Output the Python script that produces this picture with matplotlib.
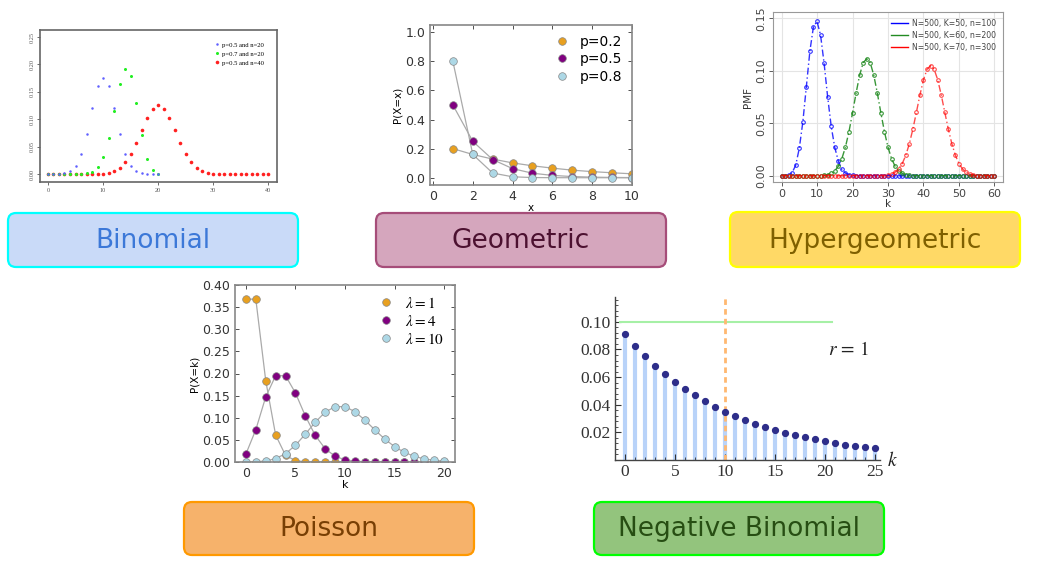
import matplotlib.pyplot as plt
from matplotlib.patches import FancyBboxPatch
from matplotlib.ticker import MultipleLocator
from matplotlib.lines import Line2D

plt.rcParams['mathtext.fontset'] = 'stix'

W, H = 1046, 581

# ---------------- data ----------------
binom_k20 = list(range(0, 21))
binom_k40 = list(range(0, 41))
binom_p05_n20 = [0.0, 0.0, 0.0002, 0.0011, 0.0046, 0.0148, 0.037, 0.0739, 0.1201, 0.1602,
                 0.1762, 0.1602, 0.1201, 0.0739, 0.037, 0.0148, 0.0046, 0.0011, 0.0002, 0.0,
                 0.0]
binom_p07_n20 = [0.0, 0.0, 0.0, 0.0, 0.0, 0.0, 0.0002, 0.001, 0.0039, 0.012,
                 0.0308, 0.0654, 0.1144, 0.1643, 0.1916, 0.1789, 0.1304, 0.0716, 0.0278, 0.0068,
                 0.0008]
binom_p05_n40 = [0.0, 0.0, 0.0, 0.0, 0.0, 0.0, 0.0, 0.0, 0.0001, 0.0003,
                 0.0008, 0.002, 0.005, 0.0109, 0.0211, 0.0366, 0.0572, 0.0807, 0.1031, 0.1194,
                 0.1254, 0.1194, 0.1031, 0.0807, 0.0572, 0.0366, 0.0211, 0.0109, 0.005, 0.002,
                 0.0008, 0.0003, 0.0001, 0.0, 0.0, 0.0, 0.0, 0.0, 0.0, 0.0,
                 0.0]

geom_x = list(range(1, 11))
geom_p02 = [0.2, 0.16, 0.128, 0.102, 0.082, 0.066, 0.052, 0.042, 0.034, 0.027]
geom_p05 = [0.5, 0.25, 0.125, 0.0625, 0.031, 0.016, 0.008, 0.004, 0.002, 0.001]
geom_p08 = [0.8, 0.16, 0.032, 0.0064, 0.0013, 0.0003, 0.0001, 0.0, 0.0, 0.0]

hyper_k = list(range(0, 61))
hyper_k50 = [0.0, 0.0001, 0.0006, 0.003, 0.010, 0.026, 0.051, 0.085, 0.119, 0.142,
             0.147, 0.134, 0.107, 0.075, 0.047, 0.027, 0.014, 0.006, 0.0025, 0.001,
             0.0003, 0.0, 0.0, 0.0, 0.0, 0.0, 0.0, 0.0, 0.0, 0.0,
             0.0, 0.0, 0.0, 0.0, 0.0, 0.0, 0.0, 0.0, 0.0, 0.0,
             0.0, 0.0, 0.0, 0.0, 0.0, 0.0, 0.0, 0.0, 0.0, 0.0,
             0.0, 0.0, 0.0, 0.0, 0.0, 0.0, 0.0, 0.0, 0.0, 0.0,
             0.0]
hyper_k60 = [0.0, 0.0, 0.0, 0.0, 0.0, 0.0, 0.0, 0.0, 0.0, 0.0,
             0.0, 0.0, 0.0004, 0.001, 0.0022, 0.0046, 0.009, 0.0163, 0.0271, 0.0419,
             0.0597, 0.0786, 0.0957, 0.1076, 0.1115, 0.1076, 0.0957, 0.0786, 0.0597, 0.0419,
             0.0271, 0.0163, 0.009, 0.0046, 0.0022, 0.001, 0.0004, 0.0, 0.0, 0.0,
             0.0, 0.0, 0.0, 0.0, 0.0, 0.0, 0.0, 0.0, 0.0, 0.0,
             0.0, 0.0, 0.0, 0.0, 0.0, 0.0, 0.0, 0.0, 0.0, 0.0,
             0.0]
hyper_k70 = [0.0, 0.0, 0.0, 0.0, 0.0, 0.0, 0.0, 0.0, 0.0, 0.0,
             0.0, 0.0, 0.0, 0.0, 0.0, 0.0, 0.0, 0.0, 0.0, 0.0,
             0.0, 0.0, 0.0, 0.0, 0.0, 0.0, 0.0, 0.0, 0.0, 0.0,
             0.0007, 0.0016, 0.0033, 0.0064, 0.0115, 0.0193, 0.0303, 0.0443, 0.0604, 0.077,
             0.0915, 0.1014, 0.105, 0.1014, 0.0915, 0.077, 0.0604, 0.0443, 0.0303, 0.0193,
             0.0115, 0.0064, 0.0033, 0.0016, 0.0007, 0.0, 0.0, 0.0, 0.0, 0.0,
             0.0]
hyper_labels = ['N=500, K=50, n=100', 'N=500, K=60, n=200', 'N=500, K=70, n=300']

pois_k = list(range(0, 21))
pois_l1 = [0.368, 0.368, 0.184, 0.061, 0.015, 0.003, 0.0005, 0.0001, 0.0, 0.0,
           0.0, 0.0, 0.0, 0.0, 0.0, 0.0, 0.0, 0.0, 0.0, 0.0, 0.0]
pois_l4 = [0.018, 0.073, 0.147, 0.195, 0.195, 0.156, 0.104, 0.060, 0.030, 0.013,
           0.005, 0.002, 0.0006, 0.0002, 0.0, 0.0, 0.0, 0.0, 0.0, 0.0, 0.0]
pois_l10 = [0.0, 0.0005, 0.0023, 0.0076, 0.0189, 0.0378, 0.0631, 0.0901, 0.1126, 0.1251,
            0.1251, 0.1137, 0.0948, 0.0729, 0.0521, 0.0347, 0.0217, 0.0128, 0.0071, 0.0037,
            0.0019]

nb_k = list(range(0, 26))
nb_pmf = [0.0909, 0.0826, 0.0751, 0.0683, 0.0621, 0.0564, 0.0513, 0.0467, 0.0424, 0.0386,
          0.0351, 0.0319, 0.029, 0.0263, 0.0239, 0.0218, 0.0198, 0.018, 0.0164, 0.0149,
          0.0135, 0.0123, 0.0112, 0.0102, 0.0093, 0.0084]

box_names = ['Binomial', 'Geometric', 'Hypergeometric', 'Poisson', 'Negative Binomial']
box_fill = ['#c9daf8', '#d5a6bd', '#ffd966', '#f6b26b', '#93c47d']
box_edge = ['#00ffff', '#a64d79', '#ffff00', '#ff9900', '#00ff00']
box_text = ['#3c78d8', '#4c1130', '#7f6000', '#783f04', '#274e13']


def px_rect(l, t, r, b):
    return [l / W, 1 - b / H, (r - l) / W, (b - t) / H]


fig = plt.figure(figsize=(W / 100, H / 100), dpi=100)

# background layer for the name boxes
bg = fig.add_axes([0, 0, 1, 1])
bg.set_xlim(0, W)
bg.set_ylim(H, 0)
bg.axis('off')
box_pos = [(8, 213, 298, 267), (376, 213, 666, 267), (730, 212, 1020, 267),
           (184, 502, 474, 555), (594, 502, 884, 555)]
for (l, t, r, b), name, fc, ec, tc in zip(box_pos, box_names, box_fill, box_edge, box_text):
    bg.add_patch(FancyBboxPatch((l, t), r - l, b - t, boxstyle="round,pad=0,rounding_size=8",
                                fc=fc, ec=ec, lw=1.6))
    bg.text((l + r) / 2, (t + b) / 2 + 1, name, ha='center', va='center', fontsize=19,
            color=tc, family='DejaVu Sans')

# ---- Binomial ----
ax1 = fig.add_axes(px_rect(40, 30, 277, 182))
r_ = ax1.plot(binom_k40, binom_p05_n40, 'o', color='#ff2020', ms=2.6, mec='none', label='p=0.5 and n=40')[0]
g_ = ax1.plot(binom_k20, binom_p07_n20, 'o', color='#22ee22', ms=2.2, mec='none', label='p=0.7 and n=20')[0]
b_ = ax1.plot(binom_k20, binom_p05_n20, 'o', color='#6060ff', ms=1.8, mec='none', label='p=0.5 and n=20')[0]
ax1.set_xlim(-1.45, 41.6)
ax1.set_ylim(-0.0146, 0.263)
ax1.set_xticks([0, 10, 20, 30, 40])
ax1.set_yticks([0, 0.05, 0.10, 0.15, 0.20, 0.25])
ax1.set_yticklabels(['0.00', '0.05', '0.10', '0.15', '0.20', '0.25'], rotation=90, va='center')
ax1.tick_params(labelsize=4.5, colors='#555', length=2, width=0.6, pad=2)
for lab in ax1.get_xticklabels() + ax1.get_yticklabels():
    lab.set_family('Liberation Serif')
for s in ax1.spines.values():
    s.set_color('#666')
    s.set_linewidth(1.2)
ax1.legend(handles=[b_, g_, r_], loc='upper right', frameon=False,
           handletextpad=0.2, labelspacing=0.5, handlelength=1.2,
           prop={'family': 'Liberation Serif', 'size': 4.8}, bbox_to_anchor=(0.97, 0.96))

# ---- Geometric ----
ax2 = fig.add_axes(px_rect(430, 25, 632, 185))
for vals, c, lab in [(geom_p02, '#e8a020', 'p=0.2'), (geom_p05, '#800080', 'p=0.5'),
                     (geom_p08, '#add8e6', 'p=0.8')]:
    ax2.plot(geom_x, vals, '-', color='#aaaaaa', lw=0.9, zorder=1)
    ax2.plot(geom_x, vals, 'o', color=c, ms=5.5, mec='#888888', mew=0.5, label=lab, zorder=2)
ax2.set_xlim(-0.15, 10.0)
ax2.set_ylim(-0.05, 1.05)
ax2.set_xticks(range(0, 11, 2))
ax2.set_yticks([0, 0.2, 0.4, 0.6, 0.8, 1.0])
ax2.tick_params(direction='in', top=True, right=True, labelsize=9, colors='#333',
                length=3, width=0.6)
for s in ax2.spines.values():
    s.set_color('#888')
    s.set_linewidth(1.2)
ax2.set_xlabel('x', fontsize=7.5, labelpad=0)
ax2.set_ylabel('P(X=x)', fontsize=7.5, labelpad=2)
ax2.legend(loc='upper right', frameon=False, fontsize=10, handletextpad=0.3,
           labelspacing=0.25, borderaxespad=0.3)

# ---- Hypergeometric ----
ax3 = fig.add_axes(px_rect(773, 12, 1003, 182))
hls = (0, (5, 2, 1, 2))
for vals, c, a, lab in [(hyper_k50, '#0000ff', 0.8, hyper_labels[0]),
                        (hyper_k60, '#228b22', 0.9, hyper_labels[1]),
                        (hyper_k70, '#ff0000', 0.7, hyper_labels[2])]:
    ax3.plot(hyper_k, vals, linestyle=hls, color=c, alpha=a, lw=1.0, marker='o', ms=2.6,
             mfc='none', mew=0.8, label=lab)
ax3.set_xlim(-2.4, 62.4)
ax3.set_ylim(-0.006, 0.156)
ax3.set_xticks(range(0, 61, 10))
ax3.set_yticks([0, 0.05, 0.10, 0.15])
ax3.set_yticklabels(['0.00', '0.05', '0.10', '0.15'], rotation=90, va='center')
ax3.grid(True, color='#e4e4e4', lw=0.8)
ax3.set_axisbelow(True)
ax3.tick_params(labelsize=8, colors='#444', length=3, width=0.6, pad=2)
for s in ax3.spines.values():
    s.set_color('#999')
    s.set_linewidth(0.8)
ax3.set_xlabel('k', fontsize=7.5, labelpad=0, color='#333')
ax3.set_ylabel('PMF', fontsize=7.5, labelpad=2, color='#333')
hl = [Line2D([0], [0], color=c, lw=1.0) for c in ['#0000ff', '#228b22', '#ff0000']]
ax3.legend(hl, hyper_labels, loc='upper right', frameon=False, fontsize=5.6,
           handlelength=2.2, handletextpad=0.5, labelspacing=0.4, borderaxespad=0.5,
           labelcolor='#444')

# ---- Poisson ----
ax4 = fig.add_axes(px_rect(235, 285, 455, 462))
for vals, c, lab in [(pois_l1, '#e8a020', r'$\lambda=1$'), (pois_l4, '#800080', r'$\lambda=4$'),
                     (pois_l10, '#add8e6', r'$\lambda=10$')]:
    ax4.plot(pois_k, vals, '-', color='#aaaaaa', lw=0.9, zorder=1)
    ax4.plot(pois_k, vals, 'o', color=c, ms=5.5, mec='#888888', mew=0.5, label=lab, zorder=2)
ax4.set_xlim(-1.1, 21.1)
ax4.set_ylim(0, 0.4)
ax4.set_xticks(range(0, 21, 5))
ax4.set_yticks([0, 0.05, 0.10, 0.15, 0.20, 0.25, 0.30, 0.35, 0.40])
ax4.set_yticklabels(['0.00', '0.05', '0.10', '0.15', '0.20', '0.25', '0.30', '0.35', '0.40'])
ax4.tick_params(direction='in', top=True, right=True, labelsize=9, colors='#333',
                length=3, width=0.6)
for s in ax4.spines.values():
    s.set_color('#888')
    s.set_linewidth(1.2)
ax4.set_xlabel('k', fontsize=8, labelpad=0)
ax4.set_ylabel('P(X=k)', fontsize=7.5, labelpad=2)
ax4.legend(loc='upper right', frameon=False, fontsize=11, handletextpad=0.3,
           labelspacing=0.2, borderaxespad=0.3)

# ---- Negative Binomial ----
ax5 = fig.add_axes(px_rect(615, 297, 880, 460))
ax5.vlines(nb_k, 0, nb_pmf, color='#b9d3f9', lw=3.0, zorder=1)
ax5.plot(nb_k, nb_pmf, 'o', color='#2e2e8a', ms=4.2, zorder=3)
ax5.plot([-0.5, 20.7], [0.10, 0.10], color='#a6f0a6', lw=1.5, zorder=2)
ax5.axvline(10, color='#ffb870', lw=2, ls=(0, (2, 1.5)), zorder=2)
ax5.set_xlim(-1.0, 25.5)
ax5.set_ylim(0, 0.118)
ax5.spines['top'].set_visible(False)
ax5.spines['right'].set_visible(False)
for s in ['left', 'bottom']:
    ax5.spines[s].set_color('#444')
    ax5.spines[s].set_linewidth(1.0)
ax5.set_xticks(range(0, 26, 5))
ax5.set_yticks([0.02, 0.04, 0.06, 0.08, 0.10])
ax5.xaxis.set_minor_locator(MultipleLocator(1))
ax5.yaxis.set_minor_locator(MultipleLocator(0.004))
ax5.tick_params(which='major', direction='in', length=4, width=0.8, labelsize=12.5,
                colors='#333', pad=3)
ax5.tick_params(which='minor', direction='in', length=2, width=0.6, colors='#333')
for lab in ax5.get_xticklabels() + ax5.get_yticklabels():
    lab.set_family('Liberation Serif')
ax5.text(20.3, 0.080, r'$r\,=\,1$', fontsize=14, color='#222', va='center')
ax5.text(26.2, 0.0, r'$k$', fontsize=14, color='#222', va='center', clip_on=False)

fig.savefig('out.png', dpi=100)
